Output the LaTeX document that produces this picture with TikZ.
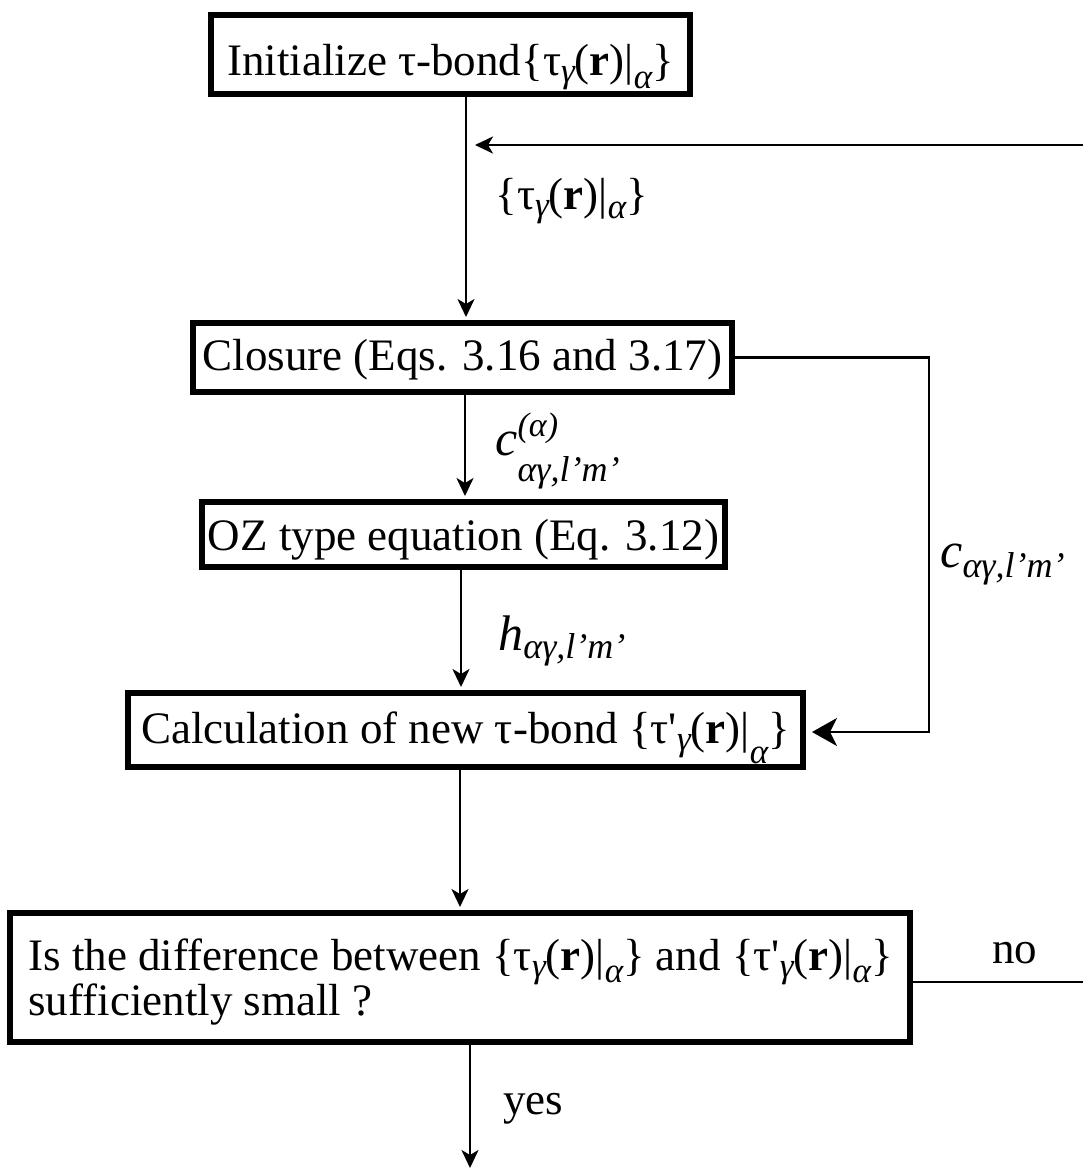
\documentclass[tikz,border=0pt]{standalone}
\usepackage{fontspec}
\setmainfont{Liberation Serif}
\usetikzlibrary{arrows.meta,calc}
\newcommand\gsub[1]{\raisebox{-3.5pt}{\fontsize{17.5}{17.5}\selectfont\itshape #1}}
\newcommand\asub[2][6pt]{\raisebox{-#1}{\fontsize{17.5}{17.5}\selectfont\itshape #2}}
\newcommand\tauset[1][6pt]{\{τ\gsub{γ}(\textbf{r})|\asub[#1]{α}\}}
\newcommand\tauprset[1][6pt]{\{τ\textquotesingle\gsub{γ}(\textbf{r})|\asub[#1]{α}\}}
\newcommand\lmsub{\fontsize{18}{18}\selectfont\itshape αγ,l’m’}
\tikzset{
  box/.style={draw, line width=3pt, inner sep=0pt, font=\fontsize{22.5}{22.5}\selectfont},
  conn/.style={line width=1.2pt, shorten >=1.5pt, -{Stealth[length=9pt,width=8.5pt,inset=2.5pt]}},
  bigconn/.style={line width=1.2pt, -{Stealth[length=12.5pt,width=14pt,inset=3.5pt]}},
  plain/.style={line width=1.2pt},
  lbl/.style={inner sep=0pt, anchor=base west, font=\fontsize{22.5}{22.5}\selectfont},
}
\begin{document}
\begin{tikzpicture}[x=0.5pt,y=-0.5pt]
\useasboundingbox (0,0) rectangle (1083,1175);
% boxes
\node[box, minimum width=239.5pt, text height=30pt, text depth=9.5pt] (B1) at (450.5,54.5) {Initialize τ-bond\tauset[6.5pt]};
\node[box, minimum width=269.5pt, text height=23.5pt, text depth=11pt] (B2) at (462.5,357.5) {Closure (Eqs. 3.16 and 3.17)};
\node[box, minimum width=261.5pt, text height=24pt, text depth=8.5pt] (B3) at (463.5,534.5) {OZ type equation (Eq. 3.12)};
\node[box, minimum width=337.5pt, text height=25pt, text depth=12pt] (B4) at (465.5,730) {Calculation of new τ-bond \tauprset[10pt]};
\node[box, minimum width=450pt, minimum height=64.5pt] (B5) at (460,977.5) {};
\node[lbl] (B5a) at (28,970) {Is the difference between \tauset[6pt]{} and \tauprset[6pt]};
\node[lbl] (B5b) at (28,1015) {sufficiently small ?};
% coordinates
\coordinate (x1) at (466,0);
\coordinate (x2) at (465,0);
\coordinate (x3) at (461,0);
\coordinate (x4) at (460,0);
\coordinate (x5) at (470,0);
\coordinate (r1) at (1083,145);
\coordinate (t1) at (472,145);
\coordinate (k) at (929,0);
\coordinate (t2) at (812,732);
\coordinate (r2) at (1083,982);
\coordinate (e5) at (470,1171);
% connectors
\draw[conn] (x1 |- B1.south) -- (x1 |- B2.north);
\draw[conn] (r1) -- (t1);
\draw[conn] (x2 |- B2.south) -- (x2 |- B3.north);
\draw[conn] (x3 |- B3.south) -- (x3 |- B4.north);
\draw[conn] (x4 |- B4.south) -- (x4 |- B5.north);
\draw[conn] (x5 |- B5.south) -- (e5);
\draw[bigconn] (B2.east) -- (k |- B2.east) -- (k |- t2) -- (t2);
\draw[plain] (B5.east |- r2) -- (r2);
% labels
\node[lbl] (L1) at (495,209) {\tauset[4.5pt]};
\node[lbl] (L2) at (495,455) {\fontsize{25}{25}\selectfont\itshape c\rlap{\raisebox{9.5pt}{\fontsize{17}{17}\selectfont (α)}}\raisebox{-13pt}{\lmsub}};
\node[lbl] (L3) at (498,650) {\fontsize{25}{25}\selectfont\itshape h\raisebox{-4pt}{\lmsub}};
\node[lbl] (L4) at (940,567) {\fontsize{25}{25}\selectfont\itshape c\raisebox{-5pt}{\lmsub}};
\node[lbl] (L5) at (992,963) {no};
\node[lbl] (L6) at (503,1114) {yes};
\end{tikzpicture}
\end{document}
